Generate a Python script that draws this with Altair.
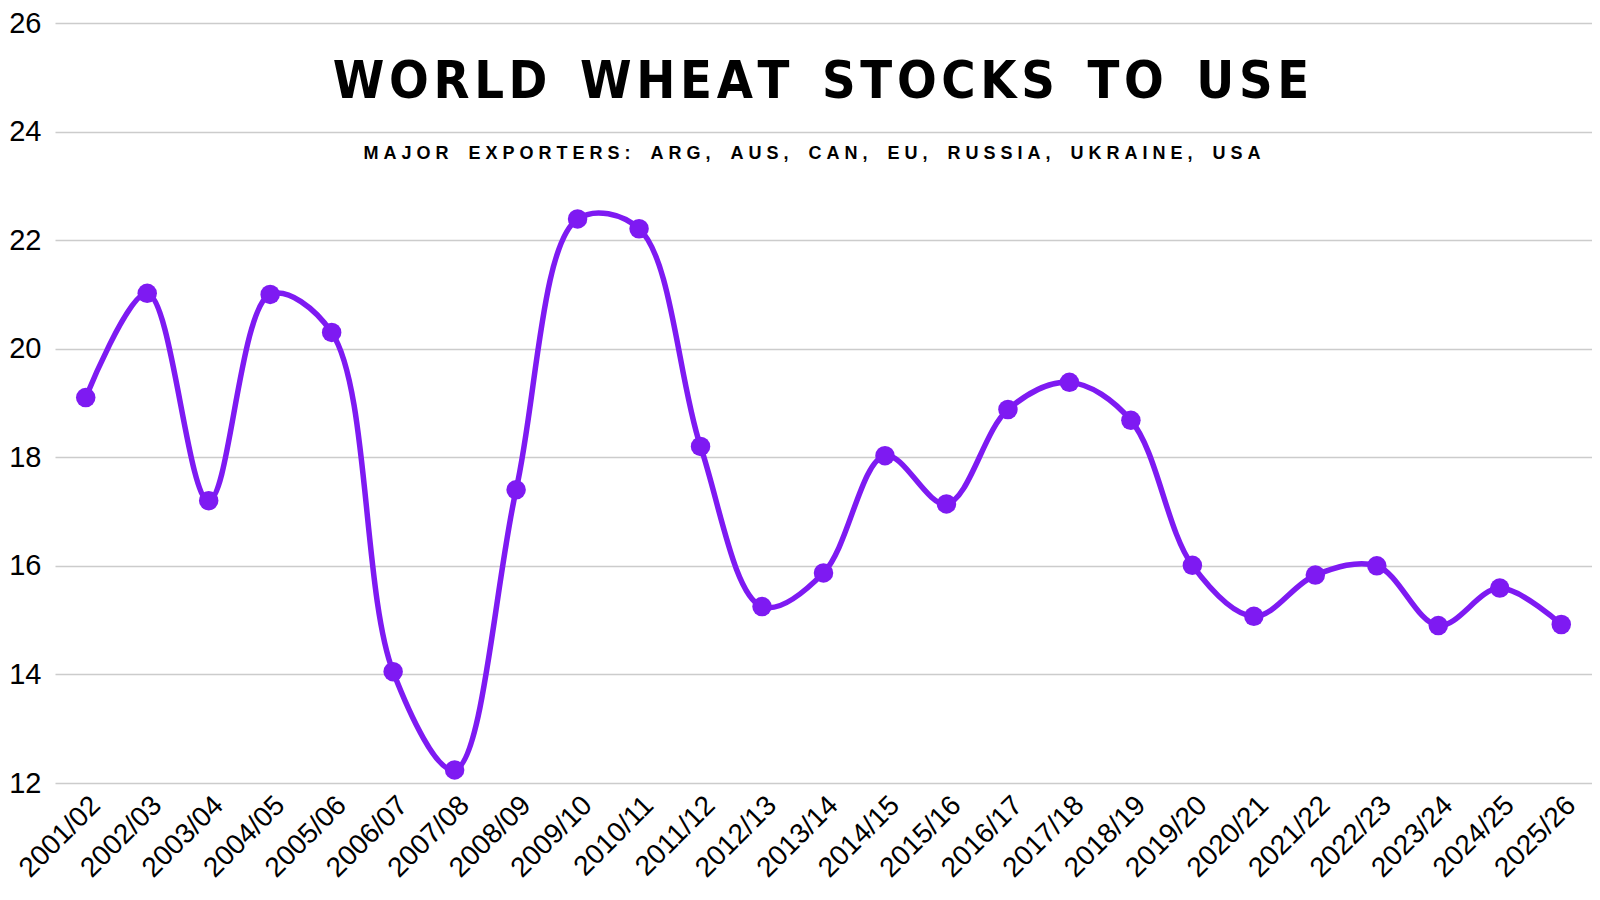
import altair as alt
import pandas as pd

seasons = ["2001/02", "2002/03", "2003/04", "2004/05", "2005/06", "2006/07", "2007/08",
           "2008/09", "2009/10", "2010/11", "2011/12", "2012/13", "2013/14", "2014/15",
           "2015/16", "2016/17", "2017/18", "2018/19", "2019/20", "2020/21", "2021/22",
           "2022/23", "2023/24", "2024/25", "2025/26"]
stocks_to_use = [19.10, 21.02, 17.20, 21.0, 20.30, 14.05, 12.24,
                 17.40, 22.39, 22.21, 18.20, 15.25, 15.87, 18.03,
                 17.14, 18.88, 19.38, 18.68, 16.01, 15.07, 15.83,
                 16.0, 14.90, 15.59, 14.92]
y_ticks = [12, 14, 16, 18, 20, 22, 24, 26]

title_text = "WORLD WHEAT STOCKS TO USE"
subtitle_text = "MAJOR EXPORTERS: ARG, AUS, CAN, EU, RUSSIA, UKRAINE, USA"

NB = "\u00a0"
HAIR = "\u200a"


def spaced(s, gap, word_gap):
    words = s.split(" ")
    return word_gap.join(gap.join(list(w)) for w in words)


df = pd.DataFrame({"season": seasons, "value": stocks_to_use})
purple = "#7E1AF2"
TOTAL_W, TOTAL_H = 1584, 875

base = alt.Chart(df).encode(
    x=alt.X("season:O", sort=seasons, title=None,
            scale=alt.Scale(type="point", padding=0.5),
            axis=alt.Axis(labelAngle=-45, labelFont="Liberation Sans", labelFontSize=28,
                          labelColor="#000000", ticks=False, domain=False, labelPadding=8,
                          grid=False)),
    y=alt.Y("value:Q", title=None,
            scale=alt.Scale(domain=[12, 26], nice=False, zero=False),
            axis=alt.Axis(values=y_ticks, labelFont="Liberation Sans", labelFontSize=29,
                          labelColor="#000000", ticks=False, domain=False, labelPadding=14,
                          gridColor="#cccccc", gridWidth=1.5)),
)

line = base.mark_line(color=purple, strokeWidth=5.5, interpolate="catmull-rom")
points = base.mark_circle(color=purple, size=380, opacity=1)

tdf = pd.DataFrame({"t": [spaced(title_text, gap=HAIR, word_gap=NB * 2)],
                    "s": [spaced(subtitle_text, gap=NB, word_gap=NB * 4)]})
title = alt.Chart(tdf).mark_text(font="DejaVu Sans Condensed", fontWeight="bold", fontSize=52,
                                 color="#000000", align="center", baseline="middle").encode(
    text="t:N", x=alt.value(766), y=alt.value(59))
subtitle = alt.Chart(tdf).mark_text(font="Liberation Sans", fontWeight="bold", fontSize=18,
                                    color="#000000", align="center", baseline="middle").encode(
    text="s:N", x=alt.value(757), y=alt.value(131))

chart = alt.layer(line, points, title, subtitle).properties(
    width=TOTAL_W, height=TOTAL_H, background="#ffffff",
    autosize=alt.AutoSizeParams(type="fit", contains="padding"),
    padding={"left": 0, "top": 1, "right": 0, "bottom": 0},
).configure_view(stroke=None)

chart.save("out.html", embed_options={"renderer": "svg", "actions": False})
